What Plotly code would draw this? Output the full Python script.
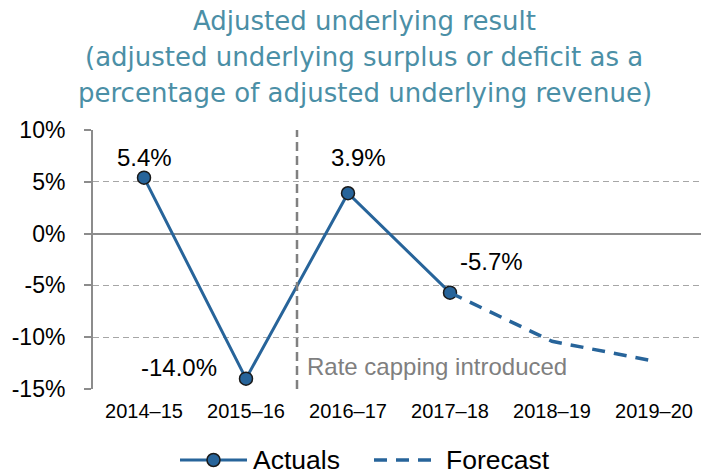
import plotly.graph_objects as go

categories = ["2014–15", "2015–16", "2016–17", "2017–18", "2018–19", "2019–20"]
actual_x = ["2014–15", "2015–16", "2016–17", "2017–18"]
actual_y = [5.4, -14.0, 3.9, -5.7]
forecast_x = ["2017–18", "2018–19", "2019–20"]
forecast_y = [-5.7, -10.4, -12.3]
label_text = ["5.4%", "-14.0%", "3.9%", "-5.7%"]
y_ticks = [10, 5, 0, -5, -10, -15]
y_tick_labels = ["10%", "5%", "0%", "-5%", "-10%", "-15%"]
title_lines = ["Adjusted underlying result",
               "(adjusted underlying surplus or deficit as a",
               "percentage of adjusted underlying revenue)"]
series_names = ["Actuals", "Forecast"]

line_color = "#27649A"
font_family = "Liberation Sans, Arial, sans-serif"
title_family = "DejaVu Sans, Verdana, sans-serif"

# plot area on screen: x 93..701, y 130..389 (page body margin removed)
PL, PR, PT, PB = 93, 701, 130, 389
W, H = 701, 474
CAT_W = 102  # pixel width per category in the reference
x_hi = -0.5 + (PR - PL) / CAT_W

def px_x(p):
    return (p - PL) / (PR - PL)
def px_y(p):
    return (PB - p) / (PB - PT)

fig = go.Figure()
fig.add_trace(go.Scatter(
    x=actual_x, y=actual_y, name=series_names[0], mode="lines+markers",
    line=dict(color=line_color, width=3),
    marker=dict(size=13, color=line_color, line=dict(color="#1a1a1a", width=1.5)),
))
fig.add_trace(go.Scatter(
    x=forecast_x, y=forecast_y, name=series_names[1], mode="lines",
    line=dict(color=line_color, width=3.5, dash="13px,9px"),
))

# data labels (offsets in pixels)
offsets = [(0, 20), (-67, 11), (10, 36), (41, 31)]
for xv, yv, t, (dx, dy) in zip(actual_x, actual_y, label_text, offsets):
    fig.add_annotation(x=xv, y=yv, text=t, showarrow=False, xshift=dx, yshift=dy,
                       font=dict(size=24, color="#000000", family=font_family))

# rate capping marker line
fig.add_shape(type="line", xref="x", yref="y", x0=1.5, x1=1.5, y0=-15, y1=10,
              line=dict(color="#808080", width=2.5, dash="9px,5px"))
fig.add_annotation(x=1.5, y=-12.8, text="Rate capping introduced", showarrow=False,
                   xanchor="left", xshift=8,
                   font=dict(size=24, color="#7f7f7f", family=font_family))

# title lines
for cx, cy, line in zip([364, 364, 365], [21, 57, 93], title_lines):
    fig.add_annotation(xref="paper", yref="paper", x=px_x(cx), y=px_y(cy),
                       text=line, showarrow=False, xanchor="center", yanchor="middle",
                       font=dict(size=26, color="#4B8FA6", family=title_family))

# custom legend
leg_y = px_y(460)
fig.add_shape(type="line", xref="paper", yref="paper", x0=px_x(180), x1=px_x(247),
              y0=leg_y, y1=leg_y, line=dict(color=line_color, width=3))
fig.add_shape(type="circle", xref="paper", yref="paper", xsizemode="pixel", ysizemode="pixel",
              xanchor=px_x(213.5), yanchor=leg_y, x0=-6.5, x1=6.5, y0=-6.5, y1=6.5,
              fillcolor=line_color, line=dict(color="#1a1a1a", width=1.5))
fig.add_shape(type="line", xref="paper", yref="paper", x0=px_x(374), x1=px_x(440),
              y0=leg_y, y1=leg_y, line=dict(color=line_color, width=3.5, dash="13px,9px"))
fig.add_annotation(xref="paper", yref="paper", x=px_x(251), y=leg_y, text=series_names[0],
                   showarrow=False, xanchor="left", yanchor="middle",
                   font=dict(size=26.5, color="#000000", family=font_family))
fig.add_annotation(xref="paper", yref="paper", x=px_x(444), y=leg_y, text=series_names[1],
                   showarrow=False, xanchor="left", yanchor="middle",
                   font=dict(size=26.5, color="#000000", family=font_family))

fig.update_layout(
    width=W, height=H,
    margin=dict(l=PL, r=W - PR, t=PT, b=H - PB),
    plot_bgcolor="white", paper_bgcolor="white",
    showlegend=False,
    xaxis=dict(type="category", categoryorder="array", categoryarray=categories,
               range=[-0.5, x_hi], showgrid=False, showline=False, ticks="",
               ticklabelstandoff=8,
               tickfont=dict(size=20, color="#000000", family=font_family)),
    yaxis=dict(range=[-15, 10], tickvals=y_ticks, ticktext=y_tick_labels,
               showgrid=True, gridcolor="#a6a6a6", griddash="6px,4px", gridwidth=1,
               zeroline=True, zerolinecolor="#8c8c8c", zerolinewidth=2,
               showline=True, linecolor="#8c8c8c", linewidth=2,
               ticks="outside", ticklen=7, tickcolor="#8c8c8c", tickwidth=1.5,
               ticklabelstandoff=14,
               tickfont=dict(size=23, color="#000000", family=font_family)),
)

fig.write_html("out.html", config={"displayModeBar": False},
               post_script="document.body.style.margin='0';document.body.style.overflow='hidden';")
